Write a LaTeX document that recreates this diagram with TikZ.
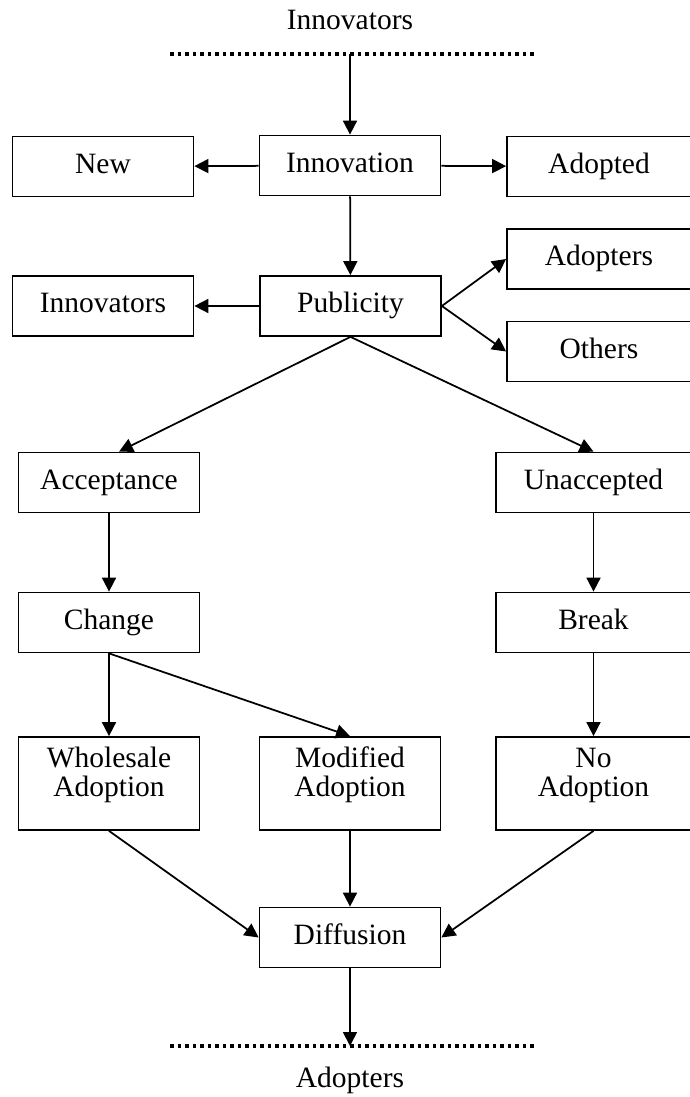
\documentclass[tikz,border=0pt]{standalone}
\usepackage{fontspec}
\setmainfont{Liberation Serif}
\usetikzlibrary{arrows.meta}
\begin{document}
\begin{tikzpicture}[x=0.4pt,y=-0.4pt,
	font=\fontsize{11.8}{11.4}\selectfont,
	box/.style={draw,line width=0.7pt,inner sep=0pt,minimum width=72.4pt,minimum height=24pt,align=center,text height=8.2pt,text depth=2.6pt},
	wide/.style={box,minimum width=78pt},
	side/.style={box,minimum width=73.6pt},
	tall/.style={minimum height=37.2pt,text height=23.6pt,text depth=13.6pt},
	arr/.style={line width=0.7pt,-{Triangle[length=5.6pt,width=5.6pt]}},
	dots/.style={line width=1.4pt,dash pattern=on 1.4pt off 1.6pt}]
\useasboundingbox (0,0) rectangle (690,1097);
\node (toplabel) at (350,20) {Innovators};
\draw[dots] (170,54) -- (535,54);
\coordinate (topmid) at (350,54);
\node[box] (inno) at (350,165.5) {Innovation};
\node[box] (new) at (103,166.5) {New};
\node[side] (adopted) at (599,166.5) {Adopted};
\node[box] (pub) at (350.5,306) {Publicity};
\node[box] (innov) at (103,306) {Innovators};
\node[side] (adopters) at (599,259) {Adopters};
\node[side] (others) at (599,351.5) {Others};
\node[box] (acc) at (109,482.5) {Acceptance};
\node[wide] (unacc) at (593.5,482.5) {Unaccepted};
\node[box] (change) at (109,622.5) {Change};
\node[wide] (brk) at (593.5,622.5) {Break};
\node[box,tall] (whole) at (109,783.5) {Wholesale\\Adoption};
\node[box,tall] (modi) at (350,783.5) {Modified\\Adoption};
\node[wide,tall] (noad) at (593.5,783.5) {No\\Adoption};
\node[box] (diff) at (350,937.5) {Diffusion};
\draw[dots] (170,1046) -- (535,1046);
\coordinate (botmid) at (350,1046);
\node (botlabel) at (350,1080) {Adopters};
\draw[arr] (topmid) -- (inno);
\draw[arr] (inno) -- (new);
\draw[arr] (inno) -- (adopted);
\draw[arr] (inno) -- (pub);
\draw[arr] (pub) -- (innov);
\draw[arr] (pub.east) -- (adopters.west);
\draw[arr] (pub.east) -- (others.west);
\draw[arr] (pub.south) -- (acc.72);
\draw[arr] (pub.south) -- (unacc.north);
\draw[arr] (acc) -- (change);
\draw[arr] (unacc) -- (brk);
\draw[arr] (change) -- (whole);
\draw[arr] (change.south) -- (modi.north);
\draw[arr] (brk) -- (noad);
\draw[arr] (whole.south) -- (diff.west);
\draw[arr] (modi) -- (diff);
\draw[arr] (noad.south) -- (diff.east);
\draw[arr] (diff) -- (botmid);
\end{tikzpicture}
\end{document}
